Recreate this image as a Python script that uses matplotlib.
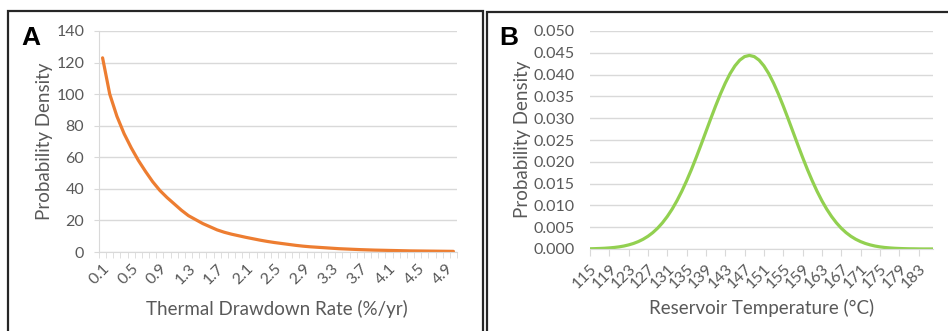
import matplotlib.pyplot as plt
from matplotlib.patches import Rectangle
from matplotlib.ticker import FixedLocator, FuncFormatter

plt.rcParams['font.family'] = ['Lato', 'DejaVu Sans']

# panel A: thermal drawdown rate (%/yr) and its density
rate = [round(0.1 * k, 1) for k in range(1, 51)]
rate_pdf = [123, 100, 86, 75, 66, 58, 51, 44.5, 39, 34.5,
            30.5, 26.5, 23, 20.5, 18, 16, 14, 12.5, 11.3, 10.3,
            9.3, 8.4, 7.5, 6.7, 6.0, 5.4, 4.8, 4.2, 3.7, 3.3,
            3.0, 2.7, 2.4, 2.1, 1.9, 1.7, 1.5, 1.35, 1.2, 1.1,
            1.0, 0.9, 0.8, 0.7, 0.65, 0.6, 0.55, 0.5, 0.45, 0.4]

# panel B: reservoir temperature (C) and its density
temp = list(range(115, 187))
temp_pdf = [0.00005, 0.00008, 0.00012, 0.00017, 0.00025, 0.00035, 0.00049, 0.00068,
            0.00094, 0.00127, 0.00170, 0.00224, 0.00292, 0.00376, 0.00478, 0.00601,
            0.00746, 0.00914, 0.01107, 0.01324, 0.01565, 0.01825, 0.02104, 0.02395,
            0.02693, 0.02991, 0.03281, 0.03555, 0.03805, 0.04023, 0.04200, 0.04332,
            0.04413, 0.04440, 0.04413, 0.04332, 0.04200, 0.04023, 0.03805, 0.03555,
            0.03281, 0.02991, 0.02693, 0.02395, 0.02104, 0.01825, 0.01565, 0.01324,
            0.01107, 0.00914, 0.00746, 0.00601, 0.00478, 0.00376, 0.00292, 0.00224,
            0.00170, 0.00127, 0.00094, 0.00068, 0.00049, 0.00035, 0.00025, 0.00017,
            0.00012, 0.00008, 0.00005, 0.00004, 0.00002, 0.00001, 0.00001, 0.00001]

W, H = 948, 331
TXT = '#595959'
GRID = '#d9d9d9'
TICK_FS = 11.5
TITLE_FS = 13.5

fig = plt.figure(figsize=(W / 100, H / 100), dpi=100)


def px_axes(x0, y0, x1, y1):
    # axes from pixel box (top-left origin)
    return fig.add_axes([x0 / W, (H - y1) / H, (x1 - x0) / W, (y1 - y0) / H])


def style(ax):
    for s in ['top', 'right']:
        ax.spines[s].set_visible(False)
    ax.spines['bottom'].set_color(GRID)
    ax.spines['left'].set_color(GRID)
    ax.grid(axis='y', color=GRID, lw=1)
    ax.set_axisbelow(True)
    ax.tick_params(axis='both', colors=TXT, labelsize=TICK_FS)
    ax.tick_params(axis='y', color=GRID)


def rotate_labels(ax):
    for t in ax.get_xticklabels():
        t.set_rotation(45)
        t.set_ha('right')
        t.set_va('top')
        t.set_rotation_mode('anchor')


# --- panel A ---
axA = px_axes(99, 31, 457, 252)
xa = list(range(len(rate)))
axA.plot(xa, rate_pdf, color='#ed7d31', lw=2.3, solid_capstyle='round')
axA.set_xlim(-0.5, len(rate) - 0.5)
axA.set_ylim(0, 140)
axA.set_yticks(range(0, 141, 20))
style(axA)
axA.tick_params(axis='y', length=3.6, pad=7)
axA.xaxis.set_major_locator(FixedLocator(xa[::4]))
axA.xaxis.set_major_formatter(FuncFormatter(lambda v, p: f'{rate[int(round(v))]:.1f}'))
axA.xaxis.set_minor_locator(FixedLocator([i - 0.5 for i in range(len(rate) + 1)]))
axA.tick_params(axis='x', which='major', length=0, pad=7)
axA.tick_params(axis='x', which='minor', length=4, color=GRID)
rotate_labels(axA)
axA.set_ylabel('Probability Density', color=TXT, fontsize=TITLE_FS)
axA.yaxis.set_label_coords(-0.128, 0.5)
axA.set_xlabel('Thermal Drawdown Rate (%/yr)', color=TXT, fontsize=TITLE_FS)
axA.xaxis.set_label_coords(0.497, -0.215)

# --- panel B ---
axB = px_axes(590, 31, 933, 249)
xb = list(range(len(temp)))
axB.plot(xb, temp_pdf, color='#92d050', lw=2.3, solid_capstyle='round')
axB.set_xlim(0, len(temp) - 1)
axB.set_ylim(0, 0.05)
axB.set_yticks([k * 0.005 for k in range(11)])
axB.yaxis.set_major_formatter(FuncFormatter(lambda v, p: f'{v:.3f}'))
style(axB)
axB.spines['left'].set_visible(False)
axB.tick_params(axis='y', length=0, pad=11)
axB.xaxis.set_major_locator(FixedLocator(xb[::4]))
axB.xaxis.set_major_formatter(FuncFormatter(lambda v, p: str(temp[int(round(v))])))
axB.tick_params(axis='x', length=5, color=GRID, pad=4)
rotate_labels(axB)
axB.set_ylabel('Probability Density', color=TXT, fontsize=TITLE_FS)
axB.yaxis.set_label_coords(-0.172, 0.505)
axB.set_xlabel('Reservoir Temperature (\u00b0C)', color=TXT, fontsize=TITLE_FS)
axB.xaxis.set_label_coords(0.501, -0.23)

# panel letters and frames
fig.text(21 / W, 1 - 26 / H, 'A', fontsize=19, fontweight='bold', va='top', ha='left',
         family=['Liberation Sans', 'DejaVu Sans'])
fig.text(499 / W, 1 - 26 / H, 'B', fontsize=19, fontweight='bold', va='top', ha='left',
         family=['Liberation Sans', 'DejaVu Sans'])
fig.add_artist(Rectangle((8 / W, -0.1), (483 - 8) / W, 1.1 - 11 / H,
                         transform=fig.transFigure, fill=False, lw=1.6, ec='#262626'))
fig.add_artist(Rectangle((487 / W, -0.1), 0.6, 1.1 - 12 / H,
                         transform=fig.transFigure, fill=False, lw=1.6, ec='#262626'))

fig.savefig('out.png', dpi=100)
